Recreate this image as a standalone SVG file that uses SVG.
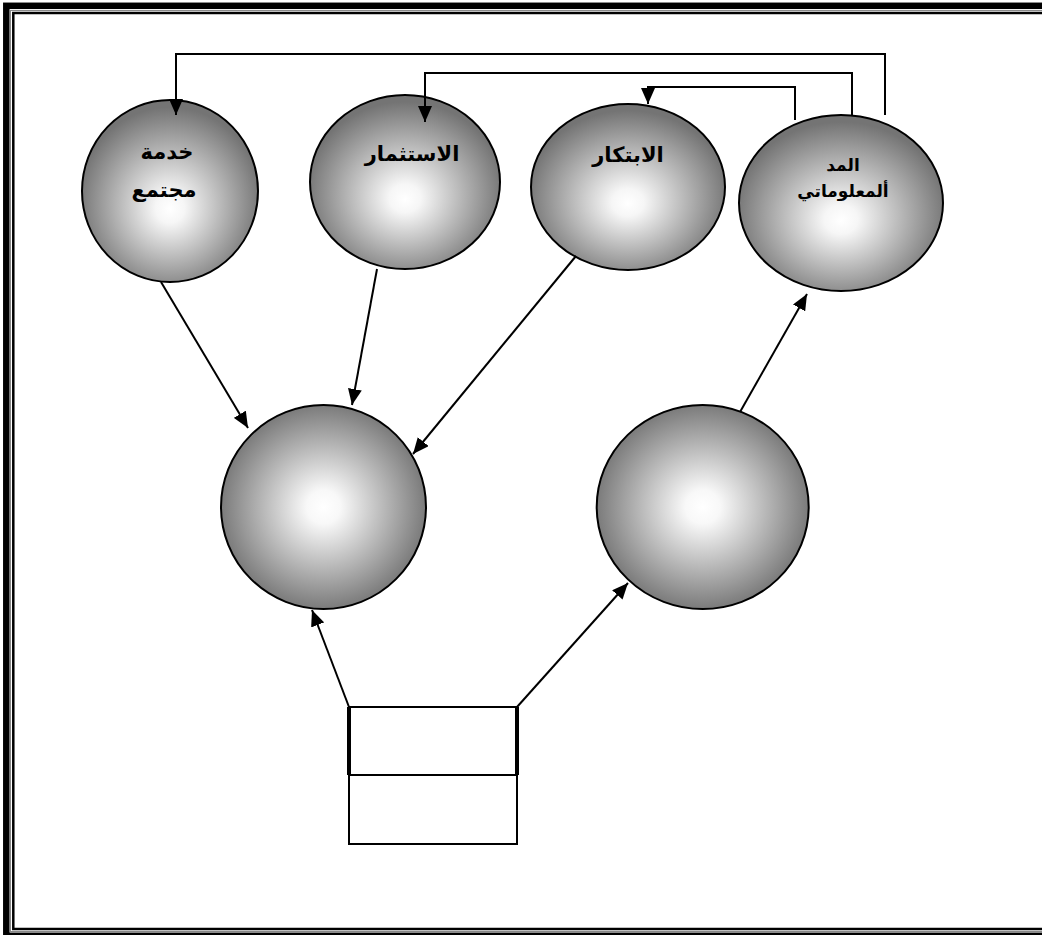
<svg xmlns="http://www.w3.org/2000/svg" width="1042" height="935" viewBox="0 0 1042 935">
<defs>
<radialGradient id="g" cx="50%" cy="56%" r="55%" fx="50%" fy="60%">
<stop offset="0" stop-color="#ffffff"/>
<stop offset="0.15" stop-color="#f6f6f6"/>
<stop offset="0.95" stop-color="#747474"/>
</radialGradient>
<radialGradient id="g2" cx="50%" cy="50%" r="55%" fx="50%" fy="50%">
<stop offset="0" stop-color="#ffffff"/>
<stop offset="0.15" stop-color="#f8f8f8"/>
<stop offset="0.95" stop-color="#747474"/>
</radialGradient>
<marker id="ah" viewBox="0 0 16 14" refX="16" refY="7" markerWidth="16" markerHeight="14" markerUnits="userSpaceOnUse" orient="auto">
<path d="M0,0 L16,7 L0,14 Z" fill="#000"/>
</marker>
</defs>
<style>
.node{stroke:#000;stroke-width:2}
.lbl{font-family:"DejaVu Sans","Liberation Sans",sans-serif;font-weight:bold;font-size:21px;fill:#000;text-anchor:middle}
.con{fill:none;stroke:#000;stroke-width:2}
.box{fill:#fff;stroke:#000;stroke-width:2}
</style>
<rect width="1042" height="935" fill="#fff"/>
<g id="frame" fill="none">
<rect x="6.3" y="5.8" width="1060" height="930" stroke="#000" stroke-width="6.5"/>
<rect x="10.5" y="10.5" width="1050" height="921" stroke="#888" stroke-width="1"/>
<rect x="13.3" y="13" width="1040" height="916" stroke="#000" stroke-width="2.5"/>
</g>
<g id="n-khidma">
<ellipse class="node" cx="170" cy="191" rx="88" ry="91" fill="url(#g)"/>
<text class="lbl" x="167" y="159">خدمة</text>
<text class="lbl" x="164" y="197">مجتمع</text>
</g>
<g id="n-istithmar">
<ellipse class="node" cx="405" cy="182" rx="95" ry="87" fill="url(#g)"/>
<text class="lbl" x="412" y="161">الاستثمار</text>
</g>
<g id="n-ibtikar">
<ellipse class="node" cx="628" cy="187" rx="97" ry="83" fill="url(#g)"/>
<text class="lbl" x="628" y="162">الابتكار</text>
</g>
<g id="n-madd">
<ellipse class="node" cx="841" cy="203" rx="102" ry="88" fill="url(#g)"/>
<text class="lbl" x="843" y="171" style="font-size:17px">المد</text>
<text class="lbl" x="843" y="197" style="font-size:17px">ألمعلوماتي</text>
</g>
<g id="n-left">
<ellipse class="node" cx="323.5" cy="507" rx="102.5" ry="102" fill="url(#g2)"/>
</g>
<g id="n-right">
<ellipse class="node" cx="702.7" cy="507" rx="106" ry="102" fill="url(#g2)"/>
</g>
<g id="n-box">
<rect class="box" x="349" y="707" width="168" height="68"/>
<rect class="box" x="349" y="775" width="168" height="69"/>
<line x1="349" y1="707" x2="349" y2="775" stroke="#000" stroke-width="4"/>
<line x1="517" y1="707" x2="517" y2="775" stroke="#000" stroke-width="4"/>
</g>
<g id="connectors">
<polyline class="con" points="885,115 885,54 176,54 176,115" marker-end="url(#ah)"/>
<polyline class="con" points="852,115 852,73 425,73 425,122" marker-end="url(#ah)"/>
<polyline class="con" points="795,120 795,87 648,87 648,104" marker-end="url(#ah)"/>
<line class="con" x1="161" y1="282" x2="248" y2="428" marker-end="url(#ah)"/>
<line class="con" x1="377" y1="269" x2="352" y2="405" marker-end="url(#ah)"/>
<line class="con" x1="576" y1="256" x2="413" y2="454" marker-end="url(#ah)"/>
<line class="con" x1="349" y1="707" x2="312" y2="610" marker-end="url(#ah)"/>
<line class="con" x1="517" y1="707" x2="628" y2="583" marker-end="url(#ah)"/>
<line class="con" x1="740" y1="412" x2="807" y2="294" marker-end="url(#ah)"/>
</g>
</svg>
